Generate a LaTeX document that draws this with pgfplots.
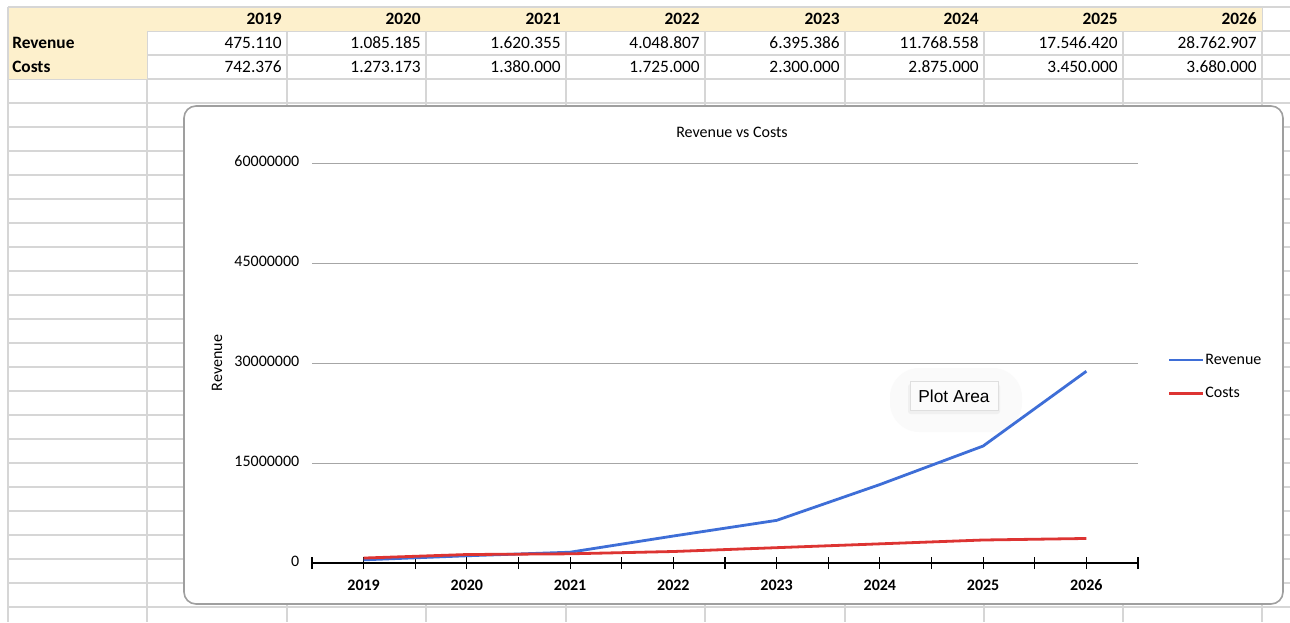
\documentclass[border=0pt]{standalone}
\usepackage{pgfplots}
\pgfplotsset{compat=1.18}
\usepackage{fontspec}
\setmainfont{Carlito}
\newfontfamily\uifont{Liberation Sans}

\definecolor{revblue}{RGB}{62,110,215}
\definecolor{costred}{RGB}{221,52,50}
\definecolor{hdr}{RGB}{253,240,204}
\definecolor{cellline}{RGB}{214,214,214}
\newcommand{\fs}{\fontsize{12}{14.4}\selectfont}
\newcommand{\ft}{\fontsize{13}{15.6}\selectfont}

\begin{document}
\begin{tikzpicture}[font=\fs]
\useasboundingbox (0,0) rectangle (967.5pt,-466.5pt);
\fill[white] (0,0) rectangle (967.5pt,-466.5pt);

% spreadsheet background, in pixel units
\begin{scope}[x=0.75pt,y=-0.75pt]
  \foreach \r in {0,...,26}
    \draw[cellline, line width=0.9pt] (8,{7+24*\r}) -- (1290,{7+24*\r});
  \foreach \c in {8,147,287,426,566,705,845,984,1123,1262}
    \draw[cellline, line width=0.9pt] (\c,7) -- (\c,622);
  \fill[hdr] (8.5,7.5) rectangle (1262,31);
  \fill[hdr] (8.5,31) rectangle (146.5,79);
  \node[anchor=base west, font=\ft\bfseries, inner sep=0pt] at (12,48) {Revenue};
  \node[anchor=base west, font=\ft\bfseries, inner sep=0pt] at (12,72) {Costs};
  \foreach \x/\yr/\rv/\cs in {
      287/2019/475.110/742.376,
      426/2020/1.085.185/1.273.173,
      566/2021/1.620.355/1.380.000,
      705/2022/4.048.807/1.725.000,
      845/2023/6.395.386/2.300.000,
      984/2024/11.768.558/2.875.000,
      1123/2025/17.546.420/3.450.000,
      1262/2026/28.762.907/3.680.000} {
    \node[anchor=base east, font=\ft\bfseries, inner sep=0pt] at (\x-5,24) {\yr};
    \node[anchor=base east, font=\ft, inner sep=0pt] at (\x-5,48) {\rv};
    \node[anchor=base east, font=\ft, inner sep=0pt] at (\x-5,72) {\cs};
  }
  % chart frame
  \draw[gray!75, line width=1.2pt, fill=white, rounded corners=9pt] (184,106) rectangle (1283,604);
  \node at (732,132) {Revenue vs Costs};
  \node[rotate=90] at (217,363) {Revenue};
  % soft glow behind the "Plot Area" tooltip
  \fill[gray!4, rounded corners=22pt] (890,368) rectangle (1022,432);
\end{scope}

\begin{axis}[
  at={(234pt,-422.25pt)}, anchor=south west,
  width=619.5pt, height=300pt, scale only axis,
  xmin=-0.5, xmax=7.5, ymin=0, ymax=60000000,
  scaled y ticks=false,
  axis x line*=bottom, axis y line*=left,
  x axis line style={black, line width=1pt, -},
  y axis line style={draw=none},
  xtick={0,...,7},
  xticklabels={2019,2020,2021,2022,2023,2024,2025,2026},
  minor xtick={-0.5,0.5,...,7.5},
  ytick={0,15000000,30000000,45000000,60000000},
  yticklabels={0,15000000,30000000,45000000,60000000},
  ymajorgrids, grid style={gray!70, line width=0.7pt},
  tick align=center, major tick length=9pt, minor tick length=9pt,
  xtick style={black, line width=0.8pt},
  ytick style={draw=none},
  tick label style={font=\fs},
  typeset ticklabels with strut,
  xticklabel style={font=\fs\bfseries, yshift=-2.5pt},
  yticklabel style={xshift=-1.5pt},
  /pgf/number format/assume math mode=true,
  legend style={at={(1.031,0.537)}, anchor=north west, draw=none, fill=none,
    font=\fs, row sep=12pt, nodes={inner xsep=1pt}},
  legend cell align=left,
  legend image code/.code={\draw[#1, line width=2.1pt] (0pt,0pt) -- (25pt,0pt);},
]
\addplot[revblue, line width=2.1pt] coordinates {
  (0,475110) (1,1085185) (2,1620355) (3,4048807)
  (4,6395386) (5,11768558) (6,17546420) (7,28762907)};
\addlegendentry{Revenue}
\addplot[costred, line width=2.1pt] coordinates {
  (0,742376) (1,1273173) (2,1380000) (3,1725000)
  (4,2300000) (5,2875000) (6,3450000) (7,3680000)};
\addlegendentry{Costs}
\end{axis}

% "Plot Area" tooltip
\begin{scope}[x=0.75pt,y=-0.75pt]
  \fill[gray!12, rounded corners=2pt] (908,384) rectangle (1000,414);
  \node[draw=gray!25, fill=gray!3, font=\uifont\fontsize{13}{15}\selectfont,
        minimum width=66pt, minimum height=21.5pt, inner sep=2pt] at (954,396) {Plot Area};
\end{scope}
\end{tikzpicture}
\end{document}
